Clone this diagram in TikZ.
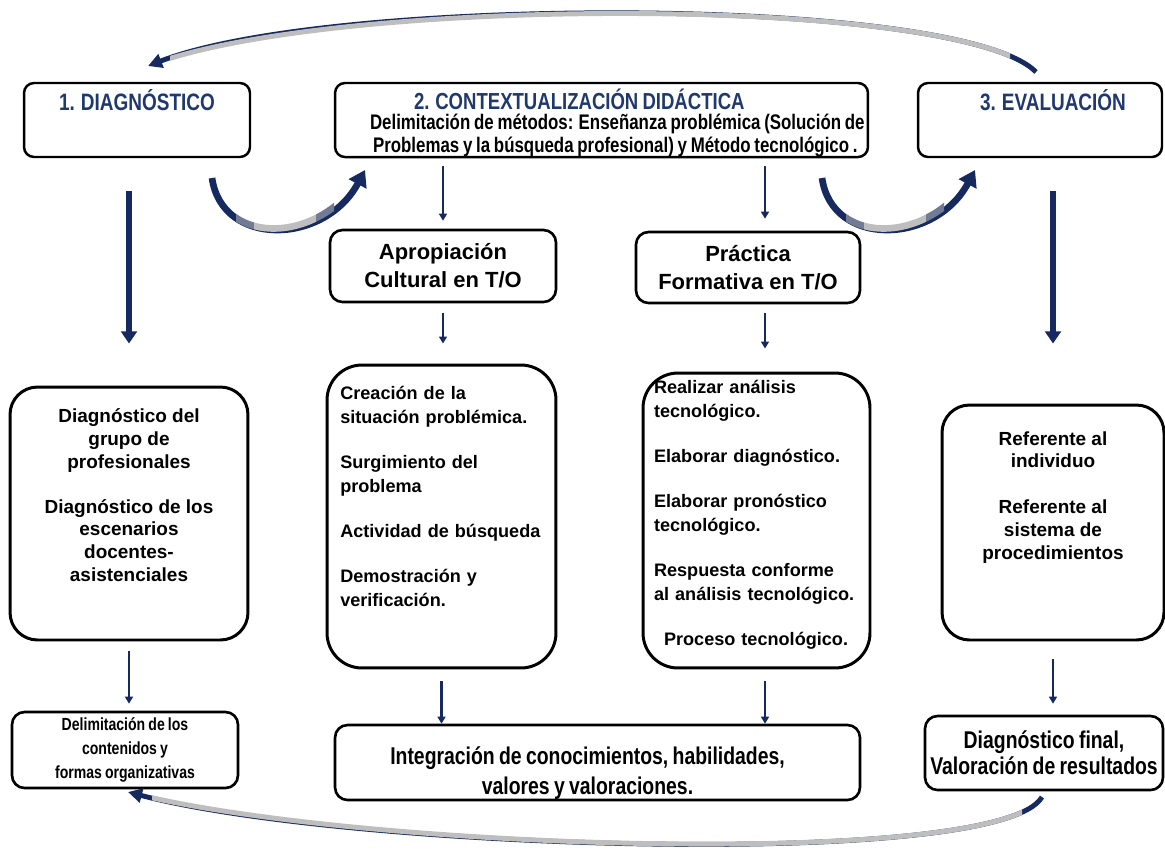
\documentclass[tikz,border=0pt]{standalone}
\usepackage{fontspec}
\setmainfont{Liberation Sans}
\newfontfamily\narrowfont[FakeStretch=0.8, WordSpace=0.8]{Liberation Sans}
\usetikzlibrary{arrows.meta}
\definecolor{navy}{RGB}{31,56,110}
\definecolor{arrownavy}{RGB}{22,42,96}
\definecolor{arcgrey}{RGB}{190,190,190}

\begin{document}
\begin{tikzpicture}[x=0.02cm, y=-0.02cm,
    headbox/.style={draw=black, line width=1.4pt, rounded corners=0.2cm, inner ysep=0pt, text height=0.54cm, text depth=0.94cm, text=navy, font=\narrowfont\bfseries\fontsize{13.5}{14}\selectfont},
    ctxbox/.style={draw=black, line width=1.4pt, rounded corners=0.2cm, inner sep=0pt, minimum width=10.66cm, minimum height=1.48cm, align=left, font=\narrowfont\bfseries\fontsize{12}{13}\selectfont},
    titlebox/.style={draw=black, line width=1.5pt, rounded corners=0.25cm, inner sep=0pt, minimum height=1.44cm, align=center, font=\bfseries\fontsize{12.5}{16}\selectfont},
    bigbox/.style={draw=black, line width=1.7pt, rounded corners=0.55cm, inner sep=0pt, align=center, font=\bfseries\fontsize{10.8}{13}\selectfont},
    listbox/.style={draw=black, line width=1.7pt, rounded corners=0.7cm, align=left, font=\bfseries\fontsize{10.3}{13.6}\selectfont},
    lowbox/.style={draw=black, line width=1.5pt, rounded corners=0.25cm, inner sep=0pt, align=center, font=\narrowfont\bfseries\fontsize{13.8}{15}\selectfont},
    bigarrow/.style={draw=arrownavy, line width=3.4pt, -{Triangle[length=7pt,width=9pt]}},
    thinarrow/.style={draw=arrownavy, line width=1.6pt, -{Triangle[length=4pt,width=4.5pt]}},
    ucurve/.style={draw=arrownavy, line width=3.8pt, -{Triangle[length=9pt,width=11pt]}},
    ugrey/.style={line width=3.8pt},
    arcnavy/.style={draw=arrownavy, line width=2.8pt, -{Triangle[length=8pt,width=8pt]}},
    arcgreyline/.style={draw=arcgrey, line width=2.8pt}]

    \useasboundingbox (0,0) rectangle (1165,850);

    % top row
    \node[headbox, minimum width=4.52cm] (hdiag) at (137,120) {1. DIAGNÓSTICO};
    \node[ctxbox] (hcontx) at (601.5,120)
        {\makebox[10.66cm][l]{\hspace*{1.58cm}\color{navy}\fontsize{13.2}{13}\selectfont\rule{0pt}{15.3pt}2. CONTEXTUALIZACIÓN DIDÁCTICA}\\[-1.7pt]
        \makebox[10.66cm][l]{\hspace*{0.7cm}Delimitación de métodos: Enseñanza problémica (Solución de}\\
        \makebox[10.66cm][l]{\hspace*{0.76cm}Problemas y la búsqueda profesional) y Método tecnológico .}};
    \node[headbox, minimum width=4.88cm] (heval) at (1040,120) {\hspace*{0.52cm}3. EVALUACIÓN};

    % second row
    \node[titlebox, minimum width=4.52cm] (aprop) at (443,266) {Apropiación\\Cultural en T/O};
    \node[titlebox, minimum width=4.48cm, minimum height=1.42cm] (pract) at (748,267.5) {Práctica\\Formativa en T/O};

    % third row
    \node[bigbox, minimum width=4.76cm, minimum height=5.06cm] (dgrupo) at (129,513.5)
        {Diagnóstico del\\grupo de\\profesionales\\[12.5pt]Diagnóstico de los\\escenarios\\docentes-\\asistenciales\\[8pt]~};
    \node[listbox, text width=4.05cm, inner xsep=0.265cm, inner ysep=0pt, minimum height=6.06cm] (lista) at (441.5,516.5)
        {Creación de la\\situación problémica.\\[12pt]Surgimiento del\\problema\\[12pt]Actividad de búsqueda\\[12pt]Demostración y\\verificación.\\[9pt]~};
    \node[listbox, text width=4.1cm, inner xsep=0.22cm, inner ysep=0pt, minimum height=5.9cm] (listb) at (756.5,520.5)
        {Realizar análisis\\tecnológico.\\[12pt]Elaborar diagnóstico.\\[12pt]Elaborar pronóstico\\tecnológico.\\[12pt]Respuesta conforme\\al análisis tecnológico.\\[12pt]\hspace*{0.2cm}Proceso tecnológico.\\[-5pt]~};
    \node[bigbox, minimum width=4.44cm, minimum height=4.7cm] (refer) at (1053,522.5)
        {Referente al\\individuo\\[13pt]Referente al\\sistema de\\procedimientos\\[18pt]~};

    % bottom row
    \node[lowbox, minimum width=4.52cm, minimum height=1.52cm, font=\narrowfont\bfseries\fontsize{10}{13.6}\selectfont] (dlimit) at (125,750)
        {Delimitación de los\\contenidos y\\formas organizativas};
    \node[lowbox, text width=10.5cm, minimum height=1.5cm, align=flush center, font=\narrowfont\bfseries\fontsize{13.8}{17}\selectfont] (integ) at (597.5,762.5)
        {\hspace*{-0.4cm}\rule{0pt}{22.6pt}Integración de conocimientos, habilidades,\\\hspace*{-0.4cm}valores y valoraciones.};
    \node[lowbox, minimum width=4.76cm, minimum height=1.48cm] (dfinal) at (1044,753)
        {Diagnóstico final,\\Valoración de resultados};

    % arrow columns and curve ends
    \coordinate (pcol) at ([xshift=0.34cm]pract.north);
    \coordinate (ua1) at (212,178);
    \coordinate (ua2) at (365,170);
    \coordinate (ub1) at (822,178);
    \coordinate (ub2) at (975,170);
    \coordinate (arcT1) at (1036,72);
    \coordinate (arcT2) at (148,66);
    \coordinate (arcB1) at (1042,797);
    \coordinate (arcB2) at (128,792);

    % vertical arrows
    \draw[bigarrow, shorten <=0.66cm, shorten >=0.84cm] (dgrupo.north |- hdiag.south) -- (dgrupo.north);
    \draw[bigarrow, shorten <=0.66cm, shorten >=1.2cm] (refer.north |- heval.south) -- (refer.north);
    \draw[thinarrow, shorten <=0.16cm, shorten >=0.16cm] (aprop.north |- hcontx.south) -- (aprop.north);
    \draw[thinarrow, shorten <=0.16cm, shorten >=0.24cm] (pcol |- hcontx.south) -- (pcol);
    \draw[thinarrow, shorten <=0.2cm, shorten >=0.4cm] (aprop.south) -- (aprop.south |- lista.north);
    \draw[thinarrow, shorten <=0.18cm, shorten >=0.46cm] (pcol |- pract.south) -- (pcol |- listb.north);
    \draw[thinarrow, shorten <=0.2cm, shorten >=0.14cm] (dgrupo.south) -- (dgrupo.south |- dlimit.north);
    \draw[thinarrow, shorten <=0.36cm, shorten >=0.22cm] (refer.south) -- (refer.south |- dfinal.north);
    \draw[thinarrow, line width=2.2pt, shorten <=0.24cm] (lista.south) -- (lista.south |- integ.north);
    \draw[thinarrow, shorten <=0.24cm] (pcol |- listb.south) -- (pcol |- integ.north);

    % curved arrows, navy ends and grey middle
    \draw[ucurve] (ua1) .. controls (222,248) and (325,245) .. (ua2);
    \foreach \xa/\xb/\tone in {236/254/55, 254/316/100, 316/334/55} {
        \begin{scope}
            \clip (\xa,190) rectangle (\xb,260);
            \draw[ugrey, draw=arcgrey!\tone!arrownavy] (ua1) .. controls (222,248) and (325,245) .. (ua2);
        \end{scope}
    }
    \draw[ucurve] (ub1) .. controls (832,248) and (935,245) .. (ub2);
    \foreach \xa/\xb/\tone in {846/864/55, 864/926/100, 926/944/55} {
        \begin{scope}
            \clip (\xa,190) rectangle (\xb,260);
            \draw[ugrey, draw=arcgrey!\tone!arrownavy] (ub1) .. controls (832,248) and (935,245) .. (ub2);
        \end{scope}
    }

    \draw[arcnavy] (arcT1) .. controls (960,-5) and (330,-5) .. (arcT2);
    \begin{scope}
        \clip (170,-10) rectangle (1010,100);
        \draw[arcgreyline] (arcT1) .. controls (960,-5) and (330,-5) .. (arcT2);
    \end{scope}
    \draw[arcnavy] (arcB1) .. controls (1000,870) and (350,850) .. (arcB2);
    \begin{scope}
        \clip (152,780) rectangle (1022,860);
        \draw[arcgreyline] (arcB1) .. controls (1000,870) and (350,850) .. (arcB2);
    \end{scope}

\end{tikzpicture}
\end{document}
